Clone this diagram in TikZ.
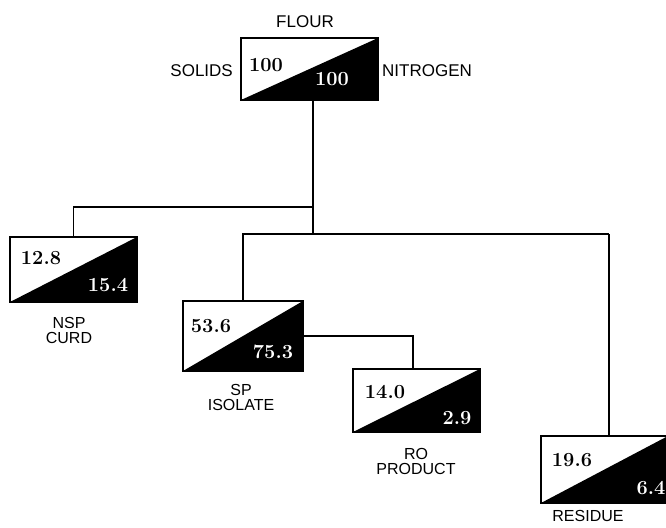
\documentclass[tikz,border=0pt]{standalone}
\usepackage{fontspec}
\newfontfamily\labelfont{Liberation Sans}
\begin{document}
\begin{tikzpicture}[x=1pt,y=-1pt,
  box/.style={draw, line width=1.6pt, inner sep=0pt,
    path picture={\fill[black] (path picture bounding box.south west) -- (path picture bounding box.south east) -- (path picture bounding box.north east) -- cycle;}},
  num/.style={font=\bfseries\fontsize{20}{20}\selectfont, inner sep=0pt},
  wnum/.style={num, text=white},
  toplbl/.style={font=\labelfont\fontsize{17}{17}\selectfont, inner sep=0pt, align=center},
  lbl/.style={font=\labelfont\fontsize{16}{15}\selectfont, inner sep=0pt, align=center},
  conn/.style={line width=1.3pt}]
\useasboundingbox[fill=white] (0,0) rectangle (666,527);

% boxes
\node[box, minimum width=137pt, minimum height=62pt] (flour) at (309.5,69) {};
\node[box, minimum width=127pt, minimum height=65pt] (nsp) at (73.5,269.5) {};
\node[box, minimum width=120pt, minimum height=70pt] (sp) at (243,336) {};
\node[box, minimum width=127pt, minimum height=63pt] (ro) at (416.5,400.5) {};
\node[box, minimum width=127pt, minimum height=67pt] (res) at (604.5,469.5) {};

% numbers
\node[num]  (flourS) at (266,65) {100};
\node[wnum] (flourN) at (332,79) {100};
\node[num]  (nspS) at (41,258) {12.8};
\node[wnum] (nspN) at (108,285) {15.4};
\node[num]  (spS) at (211,326) {53.6};
\node[wnum] (spN) at (273,352) {75.3};
\node[num]  (roS) at (385,392) {14.0};
\node[wnum] (roN) at (457,418) {2.9};
\node[num]  (resS) at (572,460) {19.6};
\node[wnum] (resN) at (651,488) {6.4};

% labels
\node[toplbl] (tflour) at (305,22) {FLOUR};
\node[toplbl, anchor=east] (tsolids) at (233,71) {SOLIDS};
\node[toplbl, anchor=west] (tnitro) at (382,71) {NITROGEN};
\node[lbl] (tnsp) at (69,330) {NSP\\CURD};
\node[lbl] (tsp) at (241,397) {SP\\ISOLATE};
\node[lbl] (tro) at (416,461) {RO\\PRODUCT};
\node[lbl] (tres) at (588,516) {RESIDUE};

% junctions
\coordinate (jA) at (313,207);
\coordinate (jB) at (313,234);
\coordinate (jR) at (609,234);
\coordinate (jS) at (413,336);

% connectors
\draw[conn] (flour.south -| jB) -- (jB);
\draw[conn] (jA) -| (nsp.north);
\draw[conn] (sp.north) |- (jR);
\draw[conn] (jR) -- (jR |- res.north);
\draw[conn] (sp.east |- jS) -- (jS) -- (jS |- ro.north);
\end{tikzpicture}
\end{document}
